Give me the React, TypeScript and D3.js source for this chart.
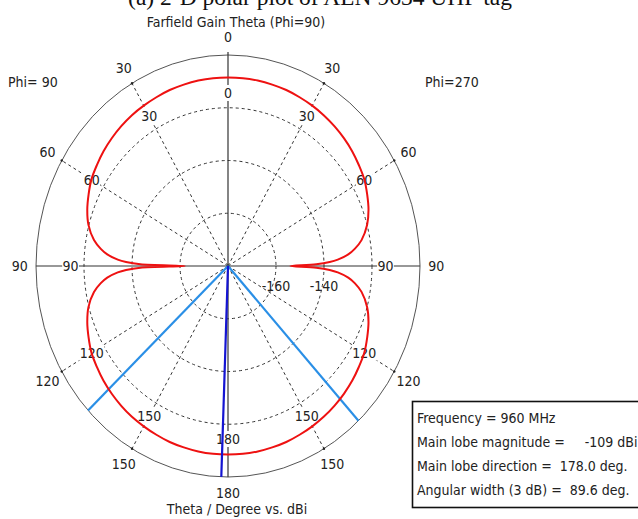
import React, { useRef, useEffect } from "react";
import * as d3 from "d3";

// Farfield gain (dBi) vs theta. theta 0..180 is the Phi=90 half
// (left), 180..360 the Phi=270 half (right).
const THETA = [
  0, 5, 10, 15, 20, 25, 30, 35, 40, 45, 50, 55, 60, 65, 70, 75, 80, 83, 85, 87, 88, 89,
  90, 91, 92, 93, 95, 97, 100, 105, 110, 115, 120, 125, 130, 135, 140, 145, 150, 155,
  160, 165, 170, 175, 180, 185, 190, 195, 200, 205, 210, 215, 220, 225, 230, 235, 240,
  245, 250, 255, 260, 263, 265, 267, 268, 269, 270, 271, 272, 273, 275, 277, 280, 285,
  290, 295, 300, 305, 310, 315, 320, 325, 330, 335, 340, 345, 350, 355,
];
const GAIN = [
  -108.5, -108.5, -108.6, -108.8, -109.0, -109.4, -109.8, -110.2, -110.8, -111.5, -112.3,
  -113.3, -114.3, -115.9, -117.6, -119.8, -123.3, -126.6, -129.5, -134.0, -137.5, -143.5,
  -162.0, -143.5, -137.5, -134.0, -129.5, -126.6, -123.3, -119.8, -117.6, -115.9, -114.3,
  -113.3, -112.3, -111.5, -110.8, -110.2, -109.8, -109.4, -109.0, -108.8, -108.6, -108.5,
  -108.5, -108.5, -108.6, -108.8, -109.0, -109.4, -109.8, -110.3, -110.9, -111.6, -112.4,
  -113.4, -114.4, -116.0, -117.7, -120.0, -123.5, -126.8, -129.7, -134.2, -137.6, -143.2,
  -154.0, -143.2, -137.6, -134.2, -129.7, -126.8, -123.5, -120.0, -117.7, -116.0, -114.4,
  -113.4, -112.4, -111.6, -110.9, -110.3, -109.8, -109.4, -109.0, -108.8, -108.6, -108.5,
];

const RING_TICKS = [-160, -140, -120];
const RING_LABELS = [-160, -140];
const SPOKES = [30, 60, 120, 150, 210, 240, 300, 330];
const ANGLE_LABELS = [0, 30, 60, 90, 120, 150, 180, 210, 240, 270, 300, 330];

const MAIN_LOBE_DIR = 178.0;
const ANGULAR_WIDTH = 89.6;
const LEGEND_LINES = [
  "Frequency = 960 MHz",
  "Main lobe magnitude =     -109 dBi",
  "Main lobe direction =  178.0 deg.",
  "Angular width (3 dB) =  89.6 deg.",
];

const W = 638;
const H = 519;
const CX = 228, CY = 266, RX = 192, RY = 211;
const FONT = "'DejaVu Sans Condensed', 'DejaVu Sans', sans-serif";

const App: React.FC = () => {
  const svgRef = useRef<SVGSVGElement>(null);

  useEffect(() => {
    const svg = d3.select(svgRef.current);
    svg.selectAll("*").remove();

    const r = d3.scaleLinear().domain([-180, -100]).range([0, 1]);
    const x = d3.scaleLinear().domain([-1, 1]).range([CX - RX, CX + RX]);
    const y = d3.scaleLinear().domain([-1, 1]).range([CY + RY, CY - RY]);
    // theta measured from top, increasing towards the left (Phi=90) side
    const pt = (theta: number, rad: number): [number, number] => {
      const a = (theta * Math.PI) / 180;
      return [x(-Math.sin(a) * rad), y(Math.cos(a) * rad)];
    };
    const label = (v: number) => (v > 180 ? 360 - v : v).toString();

    // figure caption, mostly cut off by the top edge
    svg.append("text")
      .attr("x", 320).attr("y", 5)
      .attr("text-anchor", "middle")
      .attr("font-family", "'Liberation Serif', serif")
      .attr("font-size", 23.5)
      .attr("fill", "#111")
      .text("(a) 2-D polar plot of ALN 9634 UHF tag");

    svg.append("text")
      .attr("x", 236).attr("y", 27)
      .attr("text-anchor", "middle")
      .attr("font-family", FONT).attr("font-size", 14).attr("fill", "#222")
      .text("Farfield Gain Theta (Phi=90)");

    svg.append("text").attr("x", 8).attr("y", 87)
      .attr("font-family", FONT).attr("font-size", 14).attr("fill", "#222")
      .text("Phi= 90");
    svg.append("text").attr("x", 425).attr("y", 87)
      .attr("font-family", FONT).attr("font-size", 14).attr("fill", "#222")
      .text("Phi=270");

    const g = svg.append("g");

    // dashed gain rings
    g.selectAll(".ring")
      .data(RING_TICKS)
      .join("ellipse")
      .attr("cx", CX).attr("cy", CY)
      .attr("rx", d => x(r(d)) - CX)
      .attr("ry", d => CY - y(r(d)))
      .attr("fill", "none")
      .attr("stroke", "#333")
      .attr("stroke-width", 1)
      .attr("stroke-dasharray", "3,3");

    // dashed spokes
    g.selectAll(".spoke")
      .data(SPOKES)
      .join("line")
      .attr("x1", CX).attr("y1", CY)
      .attr("x2", d => pt(d, 1)[0]).attr("y2", d => pt(d, 1)[1])
      .attr("stroke", "#333")
      .attr("stroke-width", 1)
      .attr("stroke-dasharray", "3,3");

    // outer ring
    g.append("ellipse")
      .attr("cx", CX).attr("cy", CY).attr("rx", RX).attr("ry", RY)
      .attr("fill", "none").attr("stroke", "#555").attr("stroke-width", 1);

    // tick dots on outer ring
    g.selectAll(".tickdot")
      .data(SPOKES)
      .join("circle")
      .attr("cx", d => pt(d, 1)[0]).attr("cy", d => pt(d, 1)[1])
      .attr("r", 1.2).attr("fill", "#222");

    // solid axes
    g.append("line")
      .attr("x1", CX).attr("y1", y(1) - 3).attr("x2", CX).attr("y2", y(-1))
      .attr("stroke", "#333").attr("stroke-width", 1.2);
    g.append("line")
      .attr("x1", x(-1)).attr("y1", CY).attr("x2", x(1)).attr("y2", CY)
      .attr("stroke", "#333").attr("stroke-width", 1.2);

    // inner angle labels (white box behind)
    const inner = g.selectAll(".inner")
      .data(ANGLE_LABELS)
      .join("g")
      .attr("transform", d => `translate(${pt(d, 0.82)[0]},${pt(d, 0.82)[1]})`);
    inner.append("rect")
      .attr("x", d => -(label(d).length * 4.2))
      .attr("y", -8)
      .attr("width", d => label(d).length * 8.4)
      .attr("height", 16)
      .attr("fill", "#fff");
    inner.append("text")
      .attr("text-anchor", "middle").attr("dy", "0.36em")
      .attr("font-family", FONT).attr("font-size", 14).attr("fill", "#222")
      .text(d => label(d));

    // outer angle labels
    g.selectAll(".outer")
      .data(ANGLE_LABELS)
      .join("text")
      .attr("x", d => pt(d, 1.085)[0]).attr("y", d => pt(d, 1.085)[1] - (d === 180 ? 2 : 0))
      .attr("text-anchor", "middle").attr("dy", "0.36em")
      .attr("font-family", FONT).attr("font-size", 14).attr("fill", "#222")
      .text(d => label(d));

    // ring gain labels
    g.selectAll(".rlabel")
      .data(RING_LABELS)
      .join("text")
      .attr("x", d => x(r(d))).attr("y", CY + 20)
      .attr("text-anchor", "middle").attr("dy", "0.36em")
      .attr("font-family", FONT).attr("font-size", 14).attr("fill", "#222")
      .text(d => d.toString());

    // 3 dB beam width edges
    const edges = [MAIN_LOBE_DIR - ANGULAR_WIDTH / 2, MAIN_LOBE_DIR + ANGULAR_WIDTH / 2];
    g.selectAll(".edge")
      .data(edges)
      .join("line")
      .attr("x1", CX).attr("y1", CY)
      .attr("x2", d => pt(d, 1)[0]).attr("y2", d => pt(d, 1)[1])
      .attr("stroke", "#2a8fe6").attr("stroke-width", 2.2);

    // gain curve
    const pts = THETA.map((t, i) => pt(t, r(GAIN[i])));
    g.append("path")
      .attr("d", d3.line().curve(d3.curveCatmullRomClosed.alpha(0.5))(pts))
      .attr("fill", "none")
      .attr("stroke", "#ee1111")
      .attr("stroke-width", 2)
      .attr("stroke-linejoin", "round");

    // main lobe direction
    g.append("line")
      .attr("x1", CX).attr("y1", CY)
      .attr("x2", pt(MAIN_LOBE_DIR, 1)[0]).attr("y2", pt(MAIN_LOBE_DIR, 1)[1])
      .attr("stroke", "#1414d2").attr("stroke-width", 2.2);

    svg.append("text")
      .attr("x", 237).attr("y", 514)
      .attr("text-anchor", "middle")
      .attr("font-family", FONT).attr("font-size", 14).attr("fill", "#222")
      .text("Theta / Degree vs. dBi");

    // info box
    const box = svg.append("g");
    box.append("rect")
      .attr("x", 412.5).attr("y", 401.5).attr("width", 240).attr("height", 106)
      .attr("fill", "#fff").attr("stroke", "#111").attr("stroke-width", 1.6);
    box.selectAll("text")
      .data(LEGEND_LINES)
      .join("text")
      .attr("x", 417)
      .attr("y", (_, i) => 418 + i * 24)
      .attr("dy", "0.36em")
      .attr("xml:space", "preserve")
      .style("white-space", "pre")
      .attr("font-family", FONT).attr("font-size", 14).attr("fill", "#222")
      .text(d => d);
  }, []);

  return (
    <div style={{ position: "absolute", left: 0, top: 0, width: W, height: H, background: "#fff" }}>
      <svg ref={svgRef} width={W} height={H} style={{ display: "block" }} />
    </div>
  );
};

export default App;
